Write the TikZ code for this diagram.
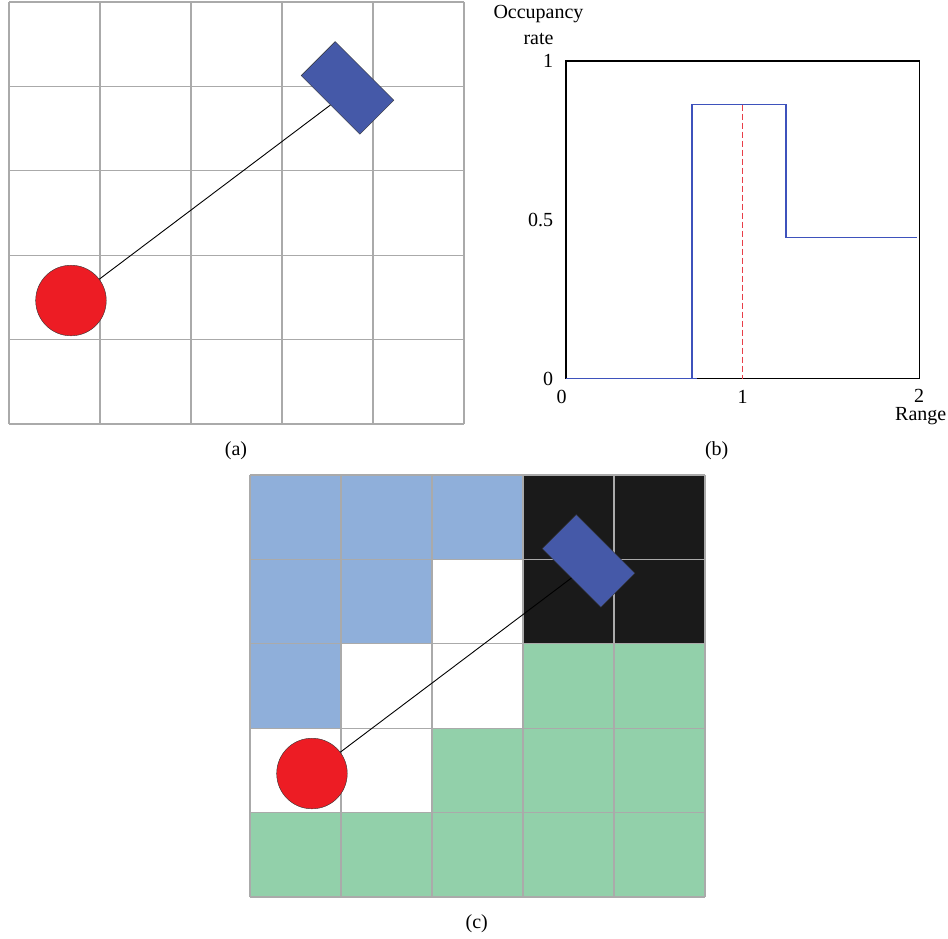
\documentclass[tikz,border=0pt]{standalone}
\usepackage{fontspec}
\setmainfont{Liberation Serif}
\usetikzlibrary{positioning}
\definecolor{robotred}{RGB}{237,28,36}
\definecolor{carblue}{RGB}{69,89,168}
\definecolor{freeblue}{RGB}{143,175,218}
\definecolor{occgreen}{RGB}{146,208,170}
\definecolor{occblack}{RGB}{26,26,26}
\definecolor{gridgray}{RGB}{170,170,170}
\definecolor{stepblue}{RGB}{62,82,188}
\definecolor{markred}{RGB}{232,62,72}

\begin{document}
\begin{tikzpicture}[x=1pt, y=1pt,
        robot/.style={circle, draw=black!80, fill=robotred, minimum size=70.6pt, inner sep=0pt},
        target/.style={rectangle, draw=black!80, fill=carblue, minimum width=83pt, minimum height=48pt, inner sep=0pt, rotate=-45},
        gridlines/.style={draw=gridgray, line width=1.3pt},
        link/.style={draw=black, line width=0.9pt},
        axisbox/.style={draw=black, line width=1.2pt},
        stepline/.style={draw=stepblue, line width=1.3pt},
        markline/.style={draw=markred, line width=1.5pt, dash pattern=on 6pt off 3pt},
        txt/.style={font=\fontsize{20}{26.5}\selectfont, inner sep=0pt}
    ]
        \useasboundingbox (0,0) rectangle (948,938);

        % (a) grid map
        \begin{scope}[shift={(9,514)}, x=91pt, y=84.4pt]
            \draw[gridlines, step=1] (0,0) grid (5,5);
            \node[robot] (robotA) at (0.681,1.463) {};
            \node[target] (targetA) at (3.720,3.982) {};
            \draw[link] (robotA) -- (targetA.south);
        \end{scope}

        % (b) occupancy along the ray
        \begin{scope}[shift={(566,559.3)}, x=176.6pt, y=317.7pt]
            \draw[axisbox] (0,0) rectangle (2,1);
            \draw[stepline] (0,0) -- (0.74,0) (0.713,0) |- (1.246,0.863) |- (1.986,0.445);
            \draw[markline] (1,0.863) -- (1,0);
            \node[txt, left=12.7pt] (ylab1) at (0,1) {1};
            \node[txt, left=12.7pt] (ylab05) at (0,0.5) {0.5};
            \node[txt, left=12.7pt] (ylab0) at (0,0) {0};
            \node[txt, below=11pt, xshift=-4.3pt] (xlab0) at (0,0) {0};
            \node[txt, below=11pt] (xlab1) at (1,0) {1};
            \node[txt, below=10pt] (xlab2) at (2,0) {2};
            \node[txt, below=5pt of xlab2, xshift=1.5pt] (xname) {Range};
        \end{scope}
        \node[txt, align=center] (yname) at (538.5,913) {Occupancy\\rate};

        % (c) classified cells
        \begin{scope}[shift={(250,41)}, x=91pt, y=84.4pt]
            \fill[freeblue] (0,4) rectangle (3,5) (0,3) rectangle (2,4) (0,2) rectangle (1,3);
            \fill[occblack] (3,3) rectangle (5,5);
            \fill[occgreen] (0,0) rectangle (5,1) (2,1) rectangle (5,2) (3,2) rectangle (5,3);
            \draw[gridlines, step=1] (0,0) grid (5,5);
            \node[robot] (robotC) at (0.681,1.463) {};
            \node[target] (targetC) at (3.720,3.982) {};
            \draw[link] (robotC) -- (targetC.south);
        \end{scope}

        \node[txt] (capa) at (236,487) {(a)};
        \node[txt] (capb) at (716.7,487) {(b)};
        \node[txt] (capc) at (476.7,14) {(c)};
    \end{tikzpicture}
\end{document}
